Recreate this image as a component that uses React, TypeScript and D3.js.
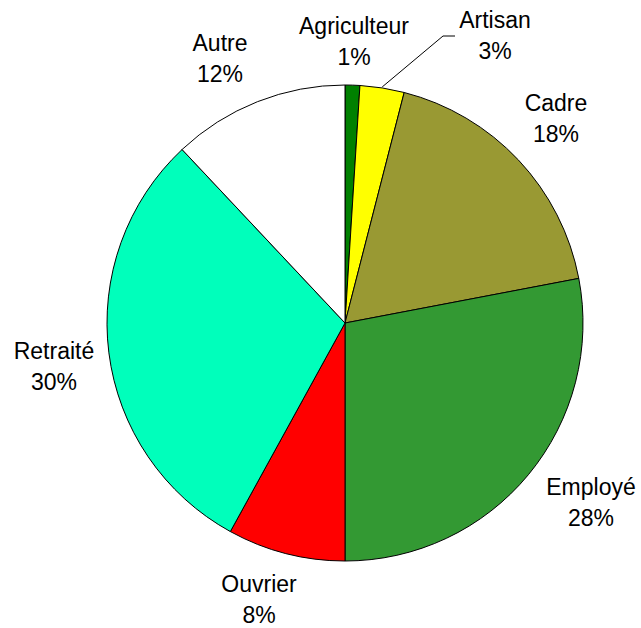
import React from "react";
import * as d3 from "d3";

const categories = ["Agriculteur", "Artisan", "Cadre", "Employé", "Ouvrier", "Retraité", "Autre"];
const values = [1, 3, 18, 28, 8, 30, 12];
const colors = ["#008000", "#FFFF00", "#999933", "#339933", "#FF0000", "#00FFBB", "#FFFFFF"];
const labelPos: [number, number][] = [
  [354, 34],
  [495, 28],
  [556, 111],
  [591, 495],
  [259, 592],
  [54, 359],
  [220, 51],
];

export default function App() {
  const W = 641, H = 628;
  const cx = 345, cy = 323, r = 238;
  const pie = d3.pie<number>().sort(null).value((d) => d);
  const arcs = pie(values);
  const arc = d3.arc<d3.PieArcDatum<number>>().innerRadius(0).outerRadius(r);
  // leader line for Artisan
  const art = arcs[1];
  const midA = (art.startAngle + art.endAngle) / 2;
  const lx = Math.sin(midA) * r + cx;
  const ly = -Math.cos(midA) * r + cy;
  return (
    <svg width={W} height={H} style={{ position: "absolute", left: 0, top: 0, background: "#fff" }}
      fontFamily="'Liberation Sans', Arial, sans-serif">
      <g transform={`translate(${cx},${cy})`}>
        {arcs.map((a, i) => (
          <path key={i} d={arc(a) || ""} fill={colors[i]} stroke="#000" strokeWidth={1} strokeLinejoin="round" />
        ))}
      </g>
      <polyline points={`${lx},${ly - 1} 443,36 455,36`} fill="none" stroke="#000" strokeWidth={1} />
      {categories.map((c, i) => (
        <text key={c} x={labelPos[i][0]} y={labelPos[i][1]} textAnchor="middle" fontSize={23} fill="#000">
          <tspan x={labelPos[i][0]}>{c}</tspan>
          <tspan x={labelPos[i][0]} dy={30.5}>{values[i]}%</tspan>
        </text>
      ))}
    </svg>
  );
}
